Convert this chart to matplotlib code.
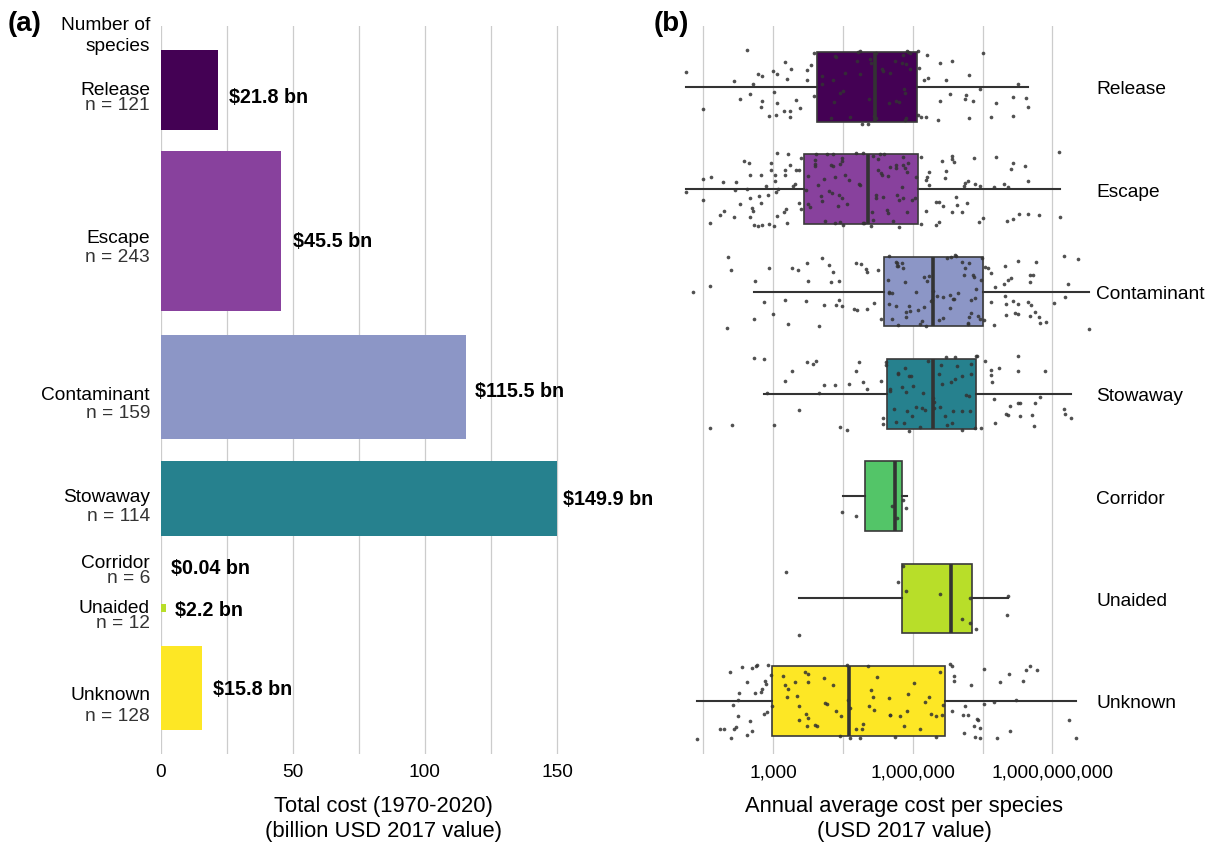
import numpy as np
import matplotlib.pyplot as plt
from matplotlib.ticker import NullFormatter

plt.rcParams['font.family'] = ['Liberation Sans', 'DejaVu Sans']

# ---- data -------------------------------------------------------------
categories = ['Release', 'Escape', 'Contaminant', 'Stowaway', 'Corridor', 'Unaided', 'Unknown']
n_species = [121, 243, 159, 114, 6, 12, 128]
total_cost_bn = [21.8, 45.5, 115.5, 149.9, 0.04, 2.2, 15.8]

# box summaries of annual cost per species, log10(USD)
box_lo = [1.13, 1.13, 2.59, 2.81, 4.50, 3.56, 1.37]
box_q1 = [3.95, 3.66, 5.39, 5.45, 4.98, 5.76, 2.97]
box_med = [5.19, 5.04, 6.43, 6.43, 5.61, 6.82, 4.63]
box_q3 = [6.09, 6.12, 7.51, 7.35, 5.76, 7.28, 6.69]
box_hi = [8.47, 9.16, 9.79, 9.40, 5.87, 8.04, 9.50]

# species points: (log10 USD, jitter in rows)
release_pts = [(1.13,-0.15),(1.50,0.22),(2.43,-0.36),(2.16,-0.06),(2.29,0.12),(2.50,0.07),(2.57,-0.03),(2.68,-0.13),(2.76,-0.11),(2.73,0.20),
    (2.76,0.14),(2.91,0.28),(3.00,-0.16),(3.01,0.05),(3.09,-0.13),(3.07,0.27),(3.09,0.16),(3.23,0.23),(3.26,-0.24),(3.29,-0.08),
    (3.39,-0.18),(3.37,0.23),(3.37,0.29),(3.50,0.13),(3.58,0.21),(3.72,-0.17),(3.72,-0.07),(3.82,-0.21),(3.88,-0.33),(3.88,0.09),
    (4.06,-0.11),(4.06,-0.03),(4.25,0.30),(4.29,-0.07),(4.31,0.15),(4.32,-0.30),(4.36,-0.29),(4.44,0.06),(4.51,0.04),(4.54,-0.14),
    (4.65,0.29),(4.80,-0.25),(4.83,-0.34),(4.86,-0.13),(4.87,-0.35),(4.91,0.36),(5.04,0.36),(5.06,0.12),(5.09,-0.27),(5.11,-0.23),
    (5.16,0.28),(5.21,0.30),(5.21,-0.33),(5.33,-0.18),(5.36,-0.16),(5.50,0.16),(5.51,-0.14),(5.61,-0.25),(5.63,0.14),(5.70,0.15),
    (5.76,-0.23),(5.79,-0.31),(5.81,0.02),(5.83,0.06),(5.86,-0.22),(5.87,-0.35),(5.90,-0.34),(5.86,0.30),(5.83,0.32),(5.94,-0.18),
    (5.94,-0.33),(6.12,-0.35),(6.14,-0.19),(6.11,0.27),(6.17,0.29),(6.24,-0.07),(6.29,0.29),(6.31,-0.31),(6.33,-0.09),(6.55,0.32),
    (6.59,-0.23),(6.58,0.14),(6.71,-0.07),(6.79,0.07),(6.84,-0.25),(7.21,-0.12),(7.12,0.12),(7.14,0.08),(7.29,0.14),(7.21,0.30),
    (7.45,0.02),(7.50,-0.33),(7.68,0.29),(7.79,0.16),(8.16,0.10),(8.16,0.28),(8.25,-0.03),(8.43,0.11),(8.48,0.20)]

escape_pts = [(1.13,0.03),(1.50,-0.10),(1.50,0.10),(1.64,0.33),(1.67,-0.12),(1.86,0.25),(1.93,-0.07),(1.95,0.21),(2.16,0.27),(2.21,-0.07),
    (2.29,0.14),(2.18,0.01),(2.38,-0.28),(2.48,-0.26),(2.44,0.00),(2.51,-0.14),(2.51,0.09),(2.54,0.18),(2.56,0.21),(2.50,0.27),
    (2.59,0.35),(2.67,0.36),(2.73,-0.14),(2.69,0.07),(2.74,0.13),(2.77,0.35),(2.84,-0.03),(2.88,0.06),(2.91,0.34),(2.96,-0.26),
    (2.95,-0.19),(3.04,-0.14),(3.03,-0.08),(3.07,0.03),(3.09,-0.35),(3.10,0.00),(3.09,0.26),(3.02,0.36),(3.26,-0.14),(3.26,-0.19),
    (3.27,0.19),(3.24,0.22),(3.33,-0.34),(3.36,-0.24),(3.29,0.33),(3.43,-0.03),(3.46,-0.05),(3.49,-0.19),(3.56,-0.19),(3.56,0.13),
    (3.60,-0.31),(3.60,0.19),(3.71,0.01),(3.75,-0.13),(3.76,0.14),(3.80,0.17),(3.91,-0.29),(3.91,-0.25),(3.91,-0.23),(3.93,-0.34),
    (3.97,-0.04),(4.02,0.07),(4.06,0.11),(4.09,-0.10),(4.11,0.31),(4.16,-0.34),(4.21,0.02),(4.24,-0.24),(4.26,0.04),(4.29,-0.34),
    (4.29,-0.23),(4.32,0.33),(4.32,-0.12),(4.39,0.16),(4.41,0.06),(4.44,0.32),(4.44,-0.25),(4.47,-0.28),(4.49,-0.31),(4.49,0.09),
    (4.51,0.35),(4.59,0.14),(4.63,-0.09),(4.54,-0.14),(4.79,-0.35),(4.84,-0.05),(4.86,-0.04),(4.93,-0.35),(4.96,0.33),(4.93,0.33),
    (5.10,0.36),(5.12,0.22),(5.14,0.30),(5.15,-0.33),(5.21,0.09),(5.22,0.06),(5.26,-0.19),(5.26,-0.30),(5.29,-0.34),(5.31,-0.16),
    (5.34,-0.14),(5.36,0.08),(5.39,-0.34),(5.45,0.20),(5.47,0.23),(5.47,-0.13),(5.52,-0.22),(5.58,0.31),(5.63,-0.21),(5.64,-0.24),
    (5.66,0.06),(5.70,0.37),(5.71,0.10),(5.76,-0.02),(5.79,-0.32),(5.80,-0.24),(5.84,-0.21),(5.87,0.22),(5.87,-0.17),(5.90,-0.26),
    (5.79,0.09),(5.98,0.10),(6.04,0.09),(6.06,-0.12),(6.18,-0.32),(6.18,0.34),(6.29,0.21),(6.29,-0.09),(6.31,-0.12),(6.34,-0.17),
    (6.34,-0.04),(6.49,0.35),(6.50,0.12),(6.56,0.12),(6.57,0.32),(6.63,-0.28),(6.69,-0.11),(6.64,0.16),(6.71,-0.18),(6.84,-0.33),
    (6.84,-0.30),(6.89,-0.27),(6.84,0.22),(6.93,0.08),(6.95,0.15),(7.06,0.22),(7.10,-0.03),(7.12,-0.06),(7.17,0.13),(7.19,-0.08),
    (7.31,-0.31),(7.33,-0.05),(7.44,-0.03),(7.43,0.32),(7.51,0.28),(7.74,-0.02),(7.79,-0.32),(7.97,-0.05),(8.03,0.31),(8.04,-0.02),
    (8.16,0.29),(8.11,-0.20),(8.16,-0.26),(8.28,0.24),(8.41,-0.23),(8.48,-0.08),(8.48,0.24),(8.71,0.25),(9.14,-0.36),(9.16,0.27)]

contaminant_pts = [(1.28,0.00),(1.64,-0.05),(2.01,0.36),(2.04,-0.34),(2.09,-0.21),(2.58,0.27),(2.62,-0.10),(2.81,0.10),(2.91,-0.23),(3.00,0.22),
    (3.26,0.08),(3.32,0.32),(3.40,-0.23),(3.54,-0.21),(3.71,0.09),(3.73,-0.28),(3.76,-0.10),(3.99,0.34),(4.05,-0.33),(4.10,0.13),
    (4.20,-0.26),(4.24,-0.09),(4.29,-0.19),(4.36,0.13),(4.41,0.08),(4.41,-0.10),(4.49,0.14),(4.74,0.17),(4.79,-0.28),(4.80,0.18),
    (4.89,-0.27),(5.00,-0.22),(5.01,-0.19),(5.01,0.17),(5.16,0.11),(5.25,-0.21),(5.32,0.27),(5.48,-0.35),(5.47,-0.11),(5.49,0.00),
    (5.50,0.01),(5.50,0.12),(5.55,0.01),(5.55,0.27),(5.63,-0.29),(5.66,-0.28),(5.64,0.14),(5.67,-0.25),(5.69,-0.25),(5.68,0.33),
    (5.76,-0.28),(5.78,-0.23),(5.84,-0.09),(5.85,0.20),(5.86,0.25),(5.91,0.14),(5.95,0.19),(6.06,0.00),(6.12,0.18),(6.16,0.32),
    (6.19,0.29),(6.24,0.15),(6.24,-0.14),(6.29,0.34),(6.31,-0.10),(6.34,-0.15),(6.40,0.09),(6.41,0.08),(6.44,-0.01),(6.53,0.04),
    (6.56,0.28),(6.64,0.05),(6.66,0.26),(6.74,-0.33),(6.83,-0.34),(6.90,-0.36),(6.93,-0.35),(6.80,0.03),(6.81,0.16),(6.86,0.07),
    (6.89,0.07),(6.97,0.01),(7.06,-0.29),(7.10,-0.16),(7.13,-0.23),(7.21,-0.28),(7.19,0.32),(7.21,0.25),(7.26,0.21),(7.18,0.31),
    (7.29,-0.16),(7.26,0.08),(7.32,-0.14),(7.33,0.06),(7.36,-0.03),(7.40,0.24),(7.45,0.27),(7.46,-0.11),(7.49,-0.33),(7.52,0.28),
    (7.56,-0.24),(7.62,-0.23),(7.69,-0.18),(7.69,0.10),(7.74,0.33),(7.76,-0.04),(7.99,-0.25),(7.99,0.04),(7.95,-0.07),(8.01,0.12),
    (8.04,-0.11),(8.12,-0.13),(8.01,0.23),(8.16,0.09),(8.19,0.21),(8.26,0.22),(8.26,0.12),(8.25,-0.30),(8.48,0.10),(8.52,0.24),
    (8.54,0.13),(8.51,-0.16),(8.52,-0.09),(8.59,-0.16),(8.62,0.20),(8.65,-0.29),(8.71,0.25),(8.73,0.31),(8.87,0.30),(9.04,0.11),
    (9.24,-0.35),(9.28,0.05),(9.34,-0.07),(9.55,-0.32),(9.78,0.37)]

stowaway_pts = [(1.64,0.33),(2.11,0.30),(2.58,-0.35),(2.81,-0.34),(2.87,-0.01),(3.01,0.30),(3.26,-0.13),(3.40,-0.22),(3.56,0.16),(3.72,-0.31),
    (3.86,-0.29),(3.92,-0.32),(3.99,-0.01),(4.10,-0.09),(4.33,-0.09),(4.44,0.32),(4.58,0.35),(4.64,-0.10),(4.79,-0.22),(4.84,-0.31),
    (4.93,-0.12),(5.01,-0.05),(5.32,-0.13),(5.37,0.29),(5.36,0.24),(5.43,-0.28),(5.43,-0.31),(5.51,-0.03),(5.51,-0.05),(5.59,0.15),
    (5.63,0.27),(5.69,-0.19),(5.69,-0.20),(5.77,-0.07),(5.81,0.28),(5.84,-0.25),(5.85,-0.02),(5.87,0.17),(5.92,-0.17),(5.96,-0.17),
    (5.98,0.22),(5.92,0.36),(6.01,-0.08),(6.07,0.13),(6.16,0.32),(6.19,0.14),(6.23,-0.01),(6.26,0.16),(6.32,-0.32),(6.43,0.04),
    (6.45,0.08),(6.46,0.14),(6.57,-0.19),(6.58,0.13),(6.61,-0.28),(6.63,-0.10),(6.69,0.22),(6.71,-0.36),(6.73,0.30),(6.83,-0.12),
    (6.84,0.28),(6.86,0.17),(6.90,-0.36),(6.91,-0.15),(6.94,-0.27),(7.06,-0.17),(7.06,0.17),(7.06,0.35),(7.14,0.01),(7.21,0.02),
    (7.26,-0.29),(7.24,0.17),(7.26,-0.19),(7.34,0.33),(7.36,-0.37),(7.39,-0.37),(7.47,0.33),(7.56,-0.32),(7.68,-0.23),(7.69,-0.18),
    (7.71,-0.12),(7.75,0.05),(7.76,0.28),(7.86,-0.25),(8.01,0.20),(8.05,0.21),(8.09,0.12),(8.25,-0.37),(8.25,-0.22),(8.26,0.09),
    (8.30,0.09),(8.31,0.22),(8.56,0.21),(8.61,0.31),(8.63,0.09),(8.73,0.03),(8.84,-0.22),(9.24,0.15),(9.26,0.20),(9.39,0.24)]

corridor_pts = [(4.49,0.15),(4.79,0.19),(5.55,0.10),(5.66,0.21),(5.79,0.04),(5.86,0.12)]

unaided_pts = [(3.27,-0.26),(3.56,0.36),(5.69,-0.16),(5.79,-0.32),(5.86,-0.07),(6.58,-0.04),
    (7.06,0.20),(7.24,0.24),(7.24,0.00),(7.35,0.30),(8.04,-0.02),(8.02,0.16)]

unknown_pts = [(1.37,0.37),(1.86,0.28),(1.95,0.28),(2.08,-0.28),(2.10,0.36),(2.13,0.04),(2.16,0.28),(2.20,0.26),(2.24,-0.01),(2.26,-0.08),
    (2.24,0.15),(2.34,-0.33),(2.44,-0.18),(2.44,0.33),(2.50,0.20),(2.54,0.30),(2.54,-0.32),(2.61,-0.08),(2.64,-0.34),(2.66,-0.35),
    (2.73,-0.09),(2.76,-0.12),(2.80,0.13),(2.83,-0.19),(2.84,-0.16),(2.86,0.11),(2.89,-0.35),(2.97,0.05),(2.96,-0.25),(3.21,-0.24),
    (3.26,-0.15),(3.32,-0.12),(3.30,-0.04),(3.46,-0.18),(3.51,-0.05),(3.56,0.19),(3.56,0.05),(3.69,-0.28),(3.75,-0.26),(3.75,-0.18),
    (3.71,0.13),(3.76,0.17),(3.73,0.25),(3.90,0.24),(3.94,0.25),(4.09,-0.22),(4.11,0.02),(4.16,0.03),(4.28,-0.15),(4.35,0.10),
    (4.44,0.34),(4.45,0.15),(4.58,-0.35),(4.61,-0.01),(4.65,0.07),(4.65,0.36),(4.79,0.28),(4.86,0.36),(4.91,0.28),(4.94,0.23),
    (5.04,-0.34),(5.06,0.05),(5.11,-0.11),(5.14,-0.04),(5.16,0.09),(5.24,-0.23),(5.50,-0.03),(5.51,0.14),(5.52,0.14),(5.61,0.35),
    (5.73,0.15),(5.81,0.25),(5.87,0.10),(5.90,-0.07),(6.03,-0.17),(6.16,0.28),(6.27,0.01),(6.35,-0.04),(6.39,0.13),(6.49,0.35),
    (6.50,0.15),(6.59,-0.28),(6.63,0.14),(6.66,0.04),(6.84,-0.34),(6.81,-0.36),(6.85,0.10),(6.89,-0.24),(6.89,-0.19),(7.07,0.14),
    (7.13,0.05),(7.19,0.14),(7.11,0.31),(7.25,-0.15),(7.31,0.25),(7.33,0.35),(7.38,0.18),(7.41,0.19),(7.44,0.36),(7.45,0.27),
    (7.54,0.03),(7.52,-0.31),(7.74,0.01),(7.81,0.36),(7.87,-0.18),(8.06,-0.26),(8.08,0.30),(8.22,-0.01),(8.36,-0.19),(8.43,-0.30),
    (8.51,-0.34),(8.66,-0.30),(9.36,0.19),(9.51,0.36)]

species_pts = [release_pts, escape_pts, contaminant_pts, stowaway_pts, corridor_pts, unaided_pts, unknown_pts]

# ---- style / layout -----------------------------------------------------
colours = ['#440154', '#88419D', '#8C96C6', '#26818E', '#53C568', '#B8DE29', '#FDE725']
W, H = 1216, 845
bar_centre = [91, 232, 388, 499.5, 568, 609, 689]      # figure px
name_base = [95, 243, 400, 502, 568, 613, 700]
n_base = [110, 262, 418, 521, 583, 628, 721]
value_base = [103, 247, 397, 505, 574, 616, 695]
value_gap = [11, 12, 9, 6, 10, 9, 11]                   # px after bar end
FS = 13.8

fig = plt.figure(figsize=(W / 100, H / 100), dpi=100)

def fx(px):
    return px / W

def fy(py):
    return 1 - py / H

# ---- panel (a) ----------------------------------------------------------
ax_a = fig.add_axes([fx(160.5), fy(755), (606 - 160.5) / W, 728 / H])
ax_a.set_ylim(755, 27)
ax_a.set_xlim(0, 168.5)
ax_a.barh(bar_centre, total_cost_bn, height=np.array(n_species) * 0.658,
          color=colours, linewidth=0, zorder=3)
for i, v in enumerate(total_cost_bn):
    ax_a.annotate(f"${v:g} bn", xy=(v, value_base[i]), xytext=(value_gap[i], 0),
                  textcoords='offset pixels', ha='left', va='baseline',
                  fontsize=14.2, fontweight='bold', annotation_clip=False)
    fig.text(fx(150), fy(name_base[i]), categories[i], ha='right', va='baseline',
             fontsize=FS, color='black')
    fig.text(fx(150), fy(n_base[i]), f"n = {n_species[i]}", ha='right', va='baseline',
             fontsize=FS, color='#333333')
fig.text(fx(150), fy(30), 'Number of', ha='right', va='baseline', fontsize=FS)
fig.text(fx(150), fy(51), 'species', ha='right', va='baseline', fontsize=FS)

ax_a.set_xticks([0, 50, 100, 150])
ax_a.set_xticks([25, 75, 125], minor=True)
ax_a.set_yticks([])
ax_a.grid(axis='x', which='both', color='#cccccc', linewidth=0.9, zorder=0)
ax_a.tick_params(axis='x', which='both', length=0, pad=6.5, labelsize=FS)
for s in ax_a.spines.values():
    s.set_visible(False)

# ---- panel (b) ----------------------------------------------------------
ax_b = fig.add_axes([fx(680), fy(755), 412 / W, 728 / H])
ax_b.set_xscale('log')
ax_b.set_xlim(10 ** 1.0, 10 ** 9.85)
ax_b.set_ylim(6.52, -0.596)

stats = []
for i in range(len(categories)):
    stats.append({'whislo': 10 ** box_lo[i], 'q1': 10 ** box_q1[i], 'med': 10 ** box_med[i],
                  'q3': 10 ** box_q3[i], 'whishi': 10 ** box_hi[i], 'fliers': []})
bp = ax_b.bxp(stats, positions=range(len(categories)), widths=0.68, orientation='horizontal',
              patch_artist=True, showfliers=False, showcaps=False,
              boxprops=dict(edgecolor='#3a3a3a', linewidth=1.2),
              medianprops=dict(color='#333333', linewidth=2.6, solid_capstyle='butt'),
              whiskerprops=dict(color='#333333', linewidth=1.5), zorder=3)
for patch, c in zip(bp['boxes'], colours):
    patch.set_facecolor(c)

for i, pts in enumerate(species_pts):
    pts = np.array(pts)
    ax_b.scatter(10 ** pts[:, 0], i + pts[:, 1], s=7, color='#333333', alpha=0.85,
                 linewidths=0, zorder=4)

ax_b.set_xticks([1e3, 1e6, 1e9], ['1,000', '1,000,000', '1,000,000,000'])
ax_b.set_xticks([10 ** 1.5, 10 ** 4.5, 10 ** 7.5], minor=True)
ax_b.xaxis.set_minor_formatter(NullFormatter())
ax_b.grid(axis='x', which='both', color='#cccccc', linewidth=0.9, zorder=0)
ax_b.set_axisbelow(True)
ax_b.tick_params(axis='x', which='both', length=0, pad=6.5, labelsize=FS)
ax_b.yaxis.tick_right()
ax_b.set_yticks(range(len(categories)), categories)
ax_b.tick_params(axis='y', length=0, pad=3, labelsize=FS)
for s in ax_b.spines.values():
    s.set_visible(False)

# ---- titles -------------------------------------------------------------
fig.text(fx(383.5), fy(812), 'Total cost (1970-2020)', ha='center', va='baseline', fontsize=15.8)
fig.text(fx(383.5), fy(837), '(billion USD 2017 value)', ha='center', va='baseline', fontsize=15.8)
fig.text(fx(904), fy(812), 'Annual average cost per species', ha='center', va='baseline', fontsize=15.8)
fig.text(fx(904), fy(837), '(USD 2017 value)', ha='center', va='baseline', fontsize=15.8)
fig.text(fx(8), fy(31), '(a)', ha='left', va='baseline', fontsize=20, fontweight='bold')
fig.text(fx(654), fy(31), '(b)', ha='left', va='baseline', fontsize=20, fontweight='bold')

fig.savefig('out.png', dpi=100, facecolor='white')
